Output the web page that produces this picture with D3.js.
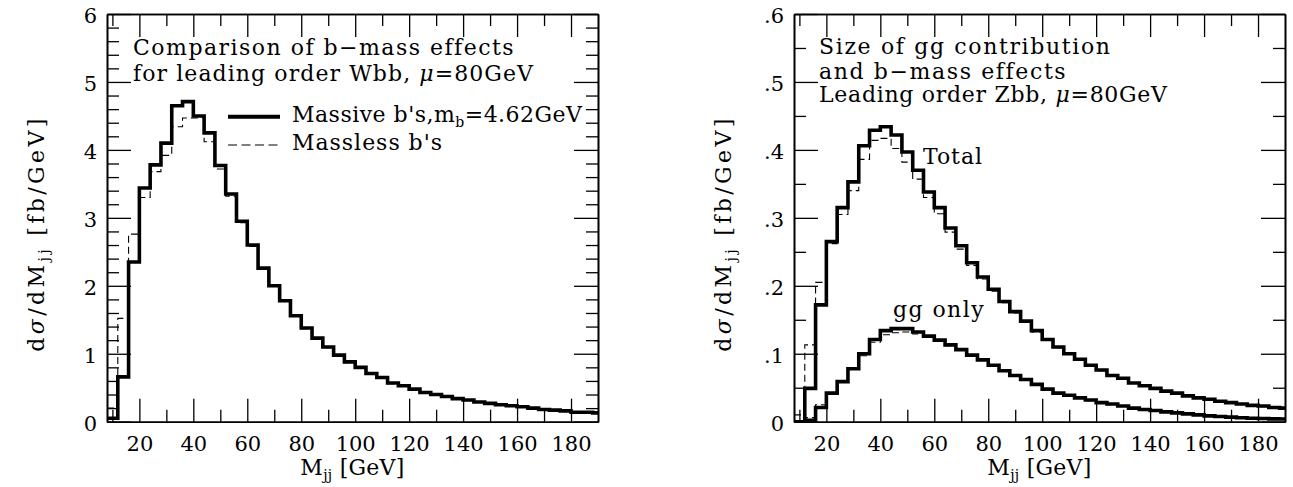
<!DOCTYPE html>
<html><head><meta charset="utf-8">
<script src="https://cdn.jsdelivr.net/npm/d3@7"></script>
<style>
html,body{margin:0;padding:0;background:#fff;}
svg{display:block;}
text{font-family:"DejaVu Serif",serif;fill:#000;}
</style></head><body>
<svg id="chart" width="1293" height="487"></svg>
<script>
// ---------------- data ----------------
const binLo = [8,12,16,20,24,28,32,36,40,44,48,52,56,60,64,68,72,76,80,84,88,92,96,100,104,108,112,116,120,124,128,132,136,140,144,148,152,156,160,164,168,172,176,180,184,188];
const binWidth = 4;

const wbbMassive = [0.05,0.66,2.35,3.44,3.78,4.10,4.65,4.71,4.50,4.25,3.77,3.35,2.95,2.60,2.26,2.00,1.78,1.56,1.38,1.23,1.10,0.98,0.88,0.80,0.71,0.65,0.57,0.53,0.48,0.43,0.40,0.37,0.34,0.32,0.29,0.27,0.25,0.235,0.22,0.20,0.18,0.17,0.16,0.14,0.14,0.13];
const wbbMassless = [0.20,1.52,2.76,3.30,3.68,3.92,4.34,4.47,4.47,4.12,3.72,3.32,2.93,2.58,2.24,1.99,1.77,1.55,1.37,1.22,1.09,0.97,0.87,0.79,0.70,0.64,0.56,0.52,0.47,0.43,0.39,0.36,0.34,0.31,0.29,0.27,0.25,0.23,0.215,0.20,0.18,0.17,0.155,0.14,0.135,0.13];

const zbbTotalMassive = [0.0,0.049,0.172,0.265,0.315,0.353,0.406,0.429,0.434,0.422,0.397,0.370,0.338,0.315,0.285,0.259,0.234,0.213,0.195,0.177,0.162,0.148,0.134,0.121,0.110,0.100,0.092,0.083,0.076,0.068,0.064,0.057,0.053,0.049,0.045,0.042,0.038,0.035,0.033,0.030,0.028,0.026,0.024,0.023,0.021,0.020];
const zbbTotalMassless = [0.01,0.113,0.205,0.262,0.305,0.340,0.386,0.414,0.417,0.402,0.382,0.357,0.330,0.306,0.279,0.254,0.230,0.210,0.192,0.175,0.160,0.146,0.132,0.120,0.109,0.099,0.091,0.082,0.075,0.068,0.063,0.057,0.052,0.048,0.045,0.041,0.038,0.035,0.032,0.030,0.028,0.026,0.024,0.022,0.021,0.020];
const zbbGgMassive = [0.0,0.002,0.021,0.042,0.059,0.078,0.100,0.121,0.134,0.137,0.137,0.132,0.126,0.120,0.113,0.106,0.098,0.091,0.083,0.075,0.068,0.062,0.055,0.048,0.042,0.039,0.035,0.032,0.028,0.026,0.023,0.020,0.018,0.0165,0.0145,0.013,0.0115,0.010,0.0085,0.0077,0.0067,0.0058,0.005,0.0046,0.0042,0.004];
const zbbGgMassless = [0.0,0.006,0.025,0.043,0.059,0.077,0.097,0.117,0.128,0.131,0.132,0.129,0.124,0.118,0.112,0.105,0.097,0.090,0.082,0.075,0.068,0.061,0.055,0.048,0.042,0.038,0.035,0.031,0.028,0.025,0.023,0.020,0.018,0.016,0.014,0.013,0.011,0.010,0.0085,0.0075,0.0066,0.0057,0.005,0.0045,0.0041,0.004];

const xMajorTicks = [20,40,60,80,100,120,140,160,180];
const xMinorTicks = [10,30,50,70,90,110,130,150,170];
const xTickLabels = ["20","40","60","80","100","120","140","160","180"];
const leftYMajor = [0,1,2,3,4,5,6];
const leftYLabels = ["0","1","2","3","4","5","6"];
const rightYMajor = [0,0.1,0.2,0.3,0.4,0.5,0.6];
const rightYLabels = ["0",".1",".2",".3",".4",".5",".6"];

// ---------------- layout ----------------
const svg = d3.select("#chart");
const Y0 = 14, Y1 = 421.7;
const FS = 22;

function fit(sel, target){
  const n = sel.node();
  const w = n.getComputedTextLength();
  const c = n.textContent.length;
  sel.style("letter-spacing", ((target - w) / (c - 1)) + "px");
}

function panel(cfg){
  const g = svg.append("g");
  const x = d3.scaleLinear().domain([8,190]).range([cfg.x0, cfg.x1]);
  const y = d3.scaleLinear().domain([0, cfg.ymax]).range([Y1, Y0]);
  const clipId = "clip" + cfg.id;
  svg.append("clipPath").attr("id", clipId).append("rect")
    .attr("x", cfg.x0).attr("y", Y0).attr("width", cfg.x1 - cfg.x0).attr("height", Y1 - Y0);

  const styleAxis = (a, showLabels) => {
    a.select(".domain").attr("stroke","#000").attr("stroke-width",1.6);
    a.selectAll(".tick line").attr("stroke","#000").attr("stroke-width",1.3);
    a.selectAll(".tick text").style("font-family","'DejaVu Serif',serif").style("font-size","21px").attr("fill","#000");
    if(!showLabels) a.selectAll(".tick text").remove();
  };
  // bottom
  const bMaj = g.append("g").attr("transform",`translate(0,${Y1})`)
    .call(d3.axisBottom(x).tickValues(xMajorTicks).tickFormat((d,i)=>xTickLabels[i]).tickSize(-23).tickSizeOuter(0).tickPadding(10));
  styleAxis(bMaj,true);
  bMaj.selectAll(".tick text").attr("dy","0.9em");
  const bMin = g.append("g").attr("transform",`translate(0,${Y1})`)
    .call(d3.axisBottom(x).tickValues(xMinorTicks).tickFormat("").tickSize(-12).tickSizeOuter(0));
  styleAxis(bMin,false);
  // top
  const tMaj = g.append("g").attr("transform",`translate(0,${Y0})`)
    .call(d3.axisTop(x).tickValues(xMajorTicks).tickFormat("").tickSize(-23).tickSizeOuter(0));
  styleAxis(tMaj,false);
  const tMin = g.append("g").attr("transform",`translate(0,${Y0})`)
    .call(d3.axisTop(x).tickValues(xMinorTicks).tickFormat("").tickSize(-12).tickSizeOuter(0));
  styleAxis(tMin,false);
  // left
  const lMaj = g.append("g").attr("transform",`translate(${cfg.x0},0)`)
    .call(d3.axisLeft(y).tickValues(cfg.yMajor).tickFormat((d,i)=>cfg.yLabels[i]).tickSize(-24).tickSizeOuter(0).tickPadding(10));
  styleAxis(lMaj,true);
  lMaj.selectAll(".tick text").attr("dy","0.42em");
  const lMin = g.append("g").attr("transform",`translate(${cfg.x0},0)`)
    .call(d3.axisLeft(y).tickValues(cfg.yMinor).tickFormat("").tickSize(-12).tickSizeOuter(0));
  styleAxis(lMin,false);
  // right
  const rMaj = g.append("g").attr("transform",`translate(${cfg.x1},0)`)
    .call(d3.axisRight(y).tickValues(cfg.yMajor).tickFormat("").tickSize(-24).tickSizeOuter(0));
  styleAxis(rMaj,false);
  const rMin = g.append("g").attr("transform",`translate(${cfg.x1},0)`)
    .call(d3.axisRight(y).tickValues(cfg.yMinor).tickFormat("").tickSize(-12).tickSizeOuter(0));
  styleAxis(rMin,false);

  // histograms
  const line = d3.line().x(d=>x(d[0])).y(d=>y(d[1])).curve(d3.curveLinear);
  const steps = vals => {
    const pts = [];
    binLo.forEach((lo,i)=>{ pts.push([lo, vals[i]]); pts.push([lo+binWidth, vals[i]]); });
    return pts;
  };
  const hg = g.append("g").attr("clip-path",`url(#${clipId})`);
  cfg.series.forEach(s=>{
    hg.append("path").attr("d", line(steps(s.values)))
      .attr("fill","none").attr("stroke","#000")
      .attr("stroke-width", s.dashed ? 1.1 : 3.6)
      .attr("stroke-dasharray", s.dashed ? "7,4" : null)
      .attr("stroke-linejoin","miter");
  });

  // axis titles
  const xl = g.append("text").attr("x",(cfg.x0+cfg.x1)/2).attr("y",475).attr("text-anchor","middle").style("font-size",FS+"px");
  xl.append("tspan").text("M");
  xl.append("tspan").text("jj").style("font-size","14px").attr("dy",5);
  xl.append("tspan").text(" [GeV]").attr("dy",-5);
  fit(xl,104);

  const yl = g.append("text").attr("transform",`translate(${cfg.x0-63},233.5) rotate(-90)`).attr("text-anchor","middle").style("font-size",FS+"px");
  yl.append("tspan").text("d");
  yl.append("tspan").text("σ").style("font-style","italic");
  yl.append("tspan").text("/dM");
  yl.append("tspan").text("jj").style("font-size","14px").attr("dy",5);
  yl.append("tspan").text(" [fb/GeV]").attr("dy",-5);
  fit(yl,233);

  return {g,x,y};
}

const minorLeft = [];
for(let v=0.2; v<6; v+=0.2){ if(Math.abs(v-Math.round(v))>1e-6) minorLeft.push(+v.toFixed(1)); }
const minorRight = [0.05,0.15,0.25,0.35,0.45,0.55];

const L = panel({id:"L", x0:107, x1:598, ymax:6, yMajor:leftYMajor, yLabels:leftYLabels, yMinor:minorLeft,
  series:[{values:wbbMassive},{values:wbbMassless,dashed:true}]});
const R = panel({id:"R", x0:794, x1:1285, ymax:0.6, yMajor:rightYMajor, yLabels:rightYLabels, yMinor:minorRight,
  series:[{values:zbbTotalMassive},{values:zbbTotalMassless,dashed:true},{values:zbbGgMassive},{values:zbbGgMassless,dashed:true}]});

// ---------------- annotations ----------------
function txt(g, x, y, parts, target){
  const t = g.append("text").attr("x",x).attr("y",y).style("font-size",FS+"px");
  parts.forEach(p=>{
    const s = t.append("tspan").text(p.t);
    if(p.it) s.style("font-style","italic");
    if(p.sub){ s.style("font-size","14px").attr("dy",5); }
    if(p.back){ s.attr("dy",-5); }
  });
  if(target) fit(t,target);
  return t;
}
txt(L.g,133,54.5,[{t:"Comparison of b−mass effects"}],380);
txt(L.g,133,81,[{t:"for leading order Wbb, "},{t:"μ",it:true},{t:"=80GeV"}],400);
L.g.append("line").attr("x1",228).attr("x2",280).attr("y1",116.7).attr("y2",116.7).attr("stroke","#000").attr("stroke-width",4);
L.g.append("line").attr("x1",228).attr("x2",280).attr("y1",145).attr("y2",145).attr("stroke","#000").attr("stroke-width",1.1).attr("stroke-dasharray","9,4.5");
txt(L.g,292,122,[{t:"Massive b's,m"},{t:"b",sub:true},{t:"=4.62GeV",back:true}],290);
txt(L.g,292,150,[{t:"Massless b's"}],150);

txt(R.g,819,53.5,[{t:"Size of gg contribution"}],291);
txt(R.g,819,78.5,[{t:"and b−mass effects"}],246);
txt(R.g,819,102,[{t:"Leading order Zbb, "},{t:"μ",it:true},{t:"=80GeV"}],348);
txt(R.g,923,163.5,[{t:"Total"}],59);
txt(R.g,893,317,[{t:"gg  only"}],92);
</script>
</body></html>
